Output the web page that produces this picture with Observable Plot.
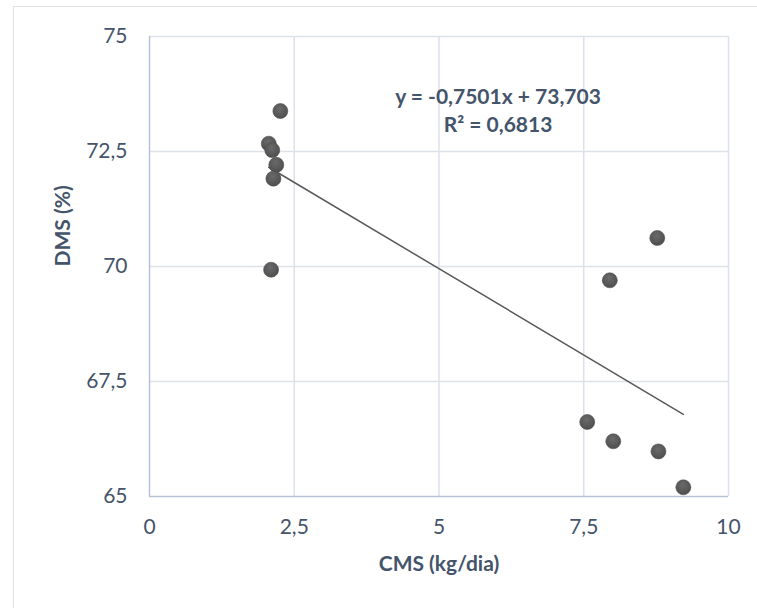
<!DOCTYPE html>
<html>
<head>
<meta charset="utf-8">
<script src="https://cdn.jsdelivr.net/npm/d3@7"></script>
<script src="https://cdn.jsdelivr.net/npm/@observablehq/plot@0.6"></script>
<style>
  html, body { margin: 0; padding: 0; background: #fff; }
  #wrap { position: relative; width: 757px; height: 608px; overflow: hidden; background: #fff; }
  #border { position: absolute; left: 13px; top: 6px; width: 900px; height: 900px; border: 1.5px solid #dfe2e8; box-sizing: border-box; }
  #chart { position: absolute; left: 0; top: 0; }
</style>
</head>
<body>
<div id="wrap"><div id="border"></div><div id="chart"></div></div>
<script>
// Consumo de matéria seca (kg/dia) vs. digestibilidade da matéria seca (%)
const cms = [2.26, 2.06, 2.12, 2.19, 2.14, 2.10, 8.77, 7.95, 7.56, 8.01, 8.79, 9.22];
const dms = [73.38, 72.67, 72.53, 72.21, 71.91, 69.93, 70.62, 69.70, 66.62, 66.20, 65.98, 65.20];
const xTicks = [0, 2.5, 5, 7.5, 10];
const yTicks = [65, 67.5, 70, 72.5, 75];
const xTitle = "CMS (kg/dia)";
const yTitle = "DMS (%)";
// Linear trendline coefficients
const slope = -0.7501;
const intercept = 73.703;
const r2 = 0.6813;

const locale = d3.formatLocale({decimal: ",", thousands: ".", grouping: [3], currency: ["", ""], minus: "-"});
const fmt = locale.format("~g");

const points = cms.map((x, i) => ({x, y: dms[i]}));
const [xMin, xMax] = d3.extent(cms);
const trend = [xMin, xMax].map(x => ({x, y: slope * x + intercept}));
const equation = `y = ${fmt(slope)}x + ${fmt(intercept)}\nR² = ${fmt(r2)}`;

const textColor = "#44546a";
const gridColor = "#dde2ea";
const axisColor = "#b7c2d6";
const fs = 21;

const chart = Plot.plot({
  width: 757,
  height: 608,
  marginLeft: 149,
  marginRight: 29,
  marginTop: 36,
  marginBottom: 112,
  style: {fontFamily: "Lato, 'Open Sans', sans-serif", background: "transparent", color: textColor},
  x: {domain: [0, 10]},
  y: {domain: [65, 75]},
  marks: [
    Plot.ruleX(xTicks.filter(t => t > 0), {stroke: gridColor, strokeWidth: 1.5}),
    Plot.ruleY(yTicks.filter(t => t > 65), {stroke: gridColor, strokeWidth: 1.5}),
    Plot.ruleX([0], {stroke: axisColor, strokeWidth: 1.5}),
    Plot.ruleY([65], {stroke: axisColor, strokeWidth: 1.5}),
    Plot.axisX(xTicks, {tickSize: 0, tickPadding: 23, tickFormat: fmt, fontSize: fs, fill: textColor, label: null}),
    Plot.axisY(yTicks, {tickSize: 0, tickPadding: 22, tickFormat: fmt, fontSize: fs, fill: textColor, label: null}),
    Plot.text([xTitle], {frameAnchor: "bottom", dy: 74, fontSize: fs, fontWeight: "bold", fill: textColor}),
    Plot.text([yTitle], {frameAnchor: "left", dx: -86, rotate: -90, fontSize: fs, fontWeight: "bold", fill: textColor}),
    Plot.line(trend, {x: "x", y: "y", stroke: "#595959", strokeWidth: 1.5}),
    Plot.dot(points, {x: "x", y: "y", r: 7.5, fill: "url(#dotShade)", stroke: "#4d4d4d", strokeWidth: 0.6}),
    Plot.text([equation], {frameAnchor: "top", dx: 59, dy: 48, lineAnchor: "top", lineHeight: 1.33, fontSize: fs, fontWeight: "bold", fill: textColor})
  ]
});

// radial shading for the markers
const defs = document.createElementNS("http://www.w3.org/2000/svg", "defs");
defs.innerHTML = `<radialGradient id="dotShade" cx="45%" cy="35%" r="65%">
  <stop offset="0%" stop-color="#6a6a6a"/>
  <stop offset="100%" stop-color="#4e4e4e"/>
</radialGradient>`;
chart.insertBefore(defs, chart.firstChild);

document.getElementById("chart").appendChild(chart);
</script>
</body>
</html>
